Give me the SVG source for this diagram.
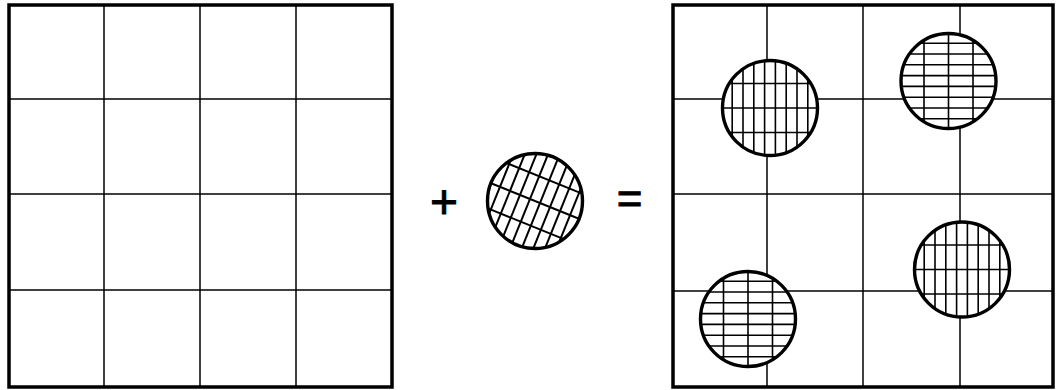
<svg xmlns="http://www.w3.org/2000/svg" xmlns:xlink="http://www.w3.org/1999/xlink" width="1059" height="390" viewBox="0 0 1059 390">
  <style>
    .frame { fill: none; stroke: #000; stroke-width: 3.5; }
    .grid { stroke: #000; stroke-width: 1.5; fill: none; }
    .disc { fill: #fff; stroke: none; }
    .ring { fill: none; stroke: #000; stroke-width: 3.4; }
    .op { font-family: "Liberation Sans", Arial, sans-serif; fill: #000; stroke: #000; stroke-width: 0.9; text-anchor: middle; }
  </style>
  <defs>
    <clipPath id="cc"><circle cx="0" cy="0" r="47.5"/></clipPath>
    <g id="hatchLines" stroke="#000" fill="none">
      <line x1="-37.8" y1="-55" x2="-37.8" y2="55"/>
      <line x1="-27" y1="-55" x2="-27" y2="55"/>
      <line x1="-16.2" y1="-55" x2="-16.2" y2="55"/>
      <line x1="-5.4" y1="-55" x2="-5.4" y2="55"/>
      <line x1="5.4" y1="-55" x2="5.4" y2="55"/>
      <line x1="16.2" y1="-55" x2="16.2" y2="55"/>
      <line x1="27" y1="-55" x2="27" y2="55"/>
      <line x1="37.8" y1="-55" x2="37.8" y2="55"/>
      <line x1="-55" y1="-24.5" x2="55" y2="-24.5"/>
      <line x1="-55" y1="0" x2="55" y2="0"/>
      <line x1="-55" y1="24.5" x2="55" y2="24.5"/>
    </g>
  </defs>

  <g id="left-grid">
    <rect class="frame" x="9" y="5" width="383" height="382"/>
    <line class="grid" x1="104" y1="5" x2="104" y2="387"/>
    <line class="grid" x1="200" y1="5" x2="200" y2="387"/>
    <line class="grid" x1="296" y1="5" x2="296" y2="387"/>
    <line class="grid" x1="9" y1="99" x2="392" y2="99"/>
    <line class="grid" x1="9" y1="194" x2="392" y2="194"/>
    <line class="grid" x1="9" y1="290" x2="392" y2="290"/>
  </g>

  <g id="plus">
    <text class="op" x="444" y="217.5" font-size="48">+</text>
  </g>

  <g id="middle-circle" transform="translate(535,201)">
    <circle class="disc" r="47.5"/>
    <g clip-path="url(#cc)" stroke-width="2"><use xlink:href="#hatchLines" transform="rotate(22)"/></g>
    <circle class="ring" r="47.5"/>
  </g>

  <g id="equals">
    <text class="op" x="629.5" y="214" font-size="44">=</text>
  </g>

  <g id="right-grid">
    <rect class="frame" x="673" y="5" width="380" height="382"/>
    <line class="grid" x1="767" y1="5" x2="767" y2="387"/>
    <line class="grid" x1="863" y1="5" x2="863" y2="387"/>
    <line class="grid" x1="960" y1="5" x2="960" y2="387"/>
    <line class="grid" x1="673" y1="99" x2="1053" y2="99"/>
    <line class="grid" x1="673" y1="194" x2="1053" y2="194"/>
    <line class="grid" x1="673" y1="291" x2="1053" y2="291"/>
  </g>

  <g id="circle-a" transform="translate(770,108)">
    <circle class="disc" r="47.5"/>
    <g clip-path="url(#cc)" stroke-width="1.6"><use xlink:href="#hatchLines"/></g>
    <circle class="ring" r="47.5"/>
  </g>
  <g id="circle-b" transform="translate(948.5,81)">
    <circle class="disc" r="47.5"/>
    <g clip-path="url(#cc)" stroke-width="1.6"><use xlink:href="#hatchLines" transform="rotate(90)"/></g>
    <circle class="ring" r="47.5"/>
  </g>
  <g id="circle-c" transform="translate(748,319)">
    <circle class="disc" r="47.5"/>
    <g clip-path="url(#cc)" stroke-width="1.6"><use xlink:href="#hatchLines" transform="rotate(90)"/></g>
    <circle class="ring" r="47.5"/>
  </g>
  <g id="circle-d" transform="translate(962,269.5)">
    <circle class="disc" r="47.5"/>
    <g clip-path="url(#cc)" stroke-width="1.6"><use xlink:href="#hatchLines"/></g>
    <circle class="ring" r="47.5"/>
  </g>
</svg>
